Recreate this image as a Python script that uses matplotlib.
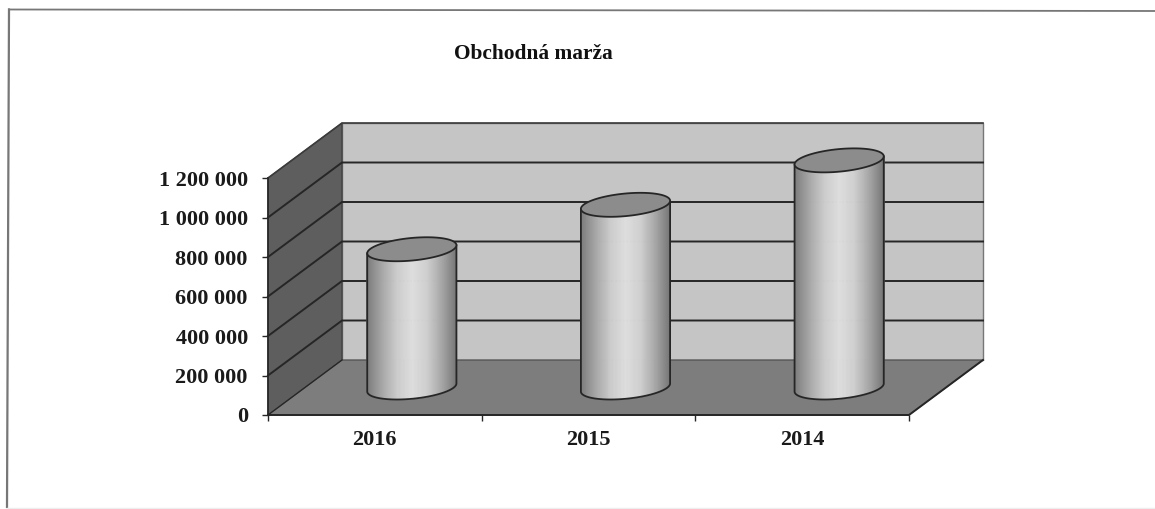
import numpy as np
import matplotlib
matplotlib.use("Agg")
import matplotlib.pyplot as plt
from matplotlib.collections import PolyCollection
from matplotlib.lines import Line2D
from matplotlib.colors import LinearSegmentedColormap

title = "Obchodná marža"
categories = ["2016", "2015", "2014"]
values = [700000, 925000, 1150000]
y_ticks = [0, 200000, 400000, 600000, 800000, 1000000, 1200000]
y_labels = ["0", "200 000", "400 000", "600 000", "800 000", "1 000 000", "1 200 000"]

W, H = 1155, 509
L, R, T, B = 268, 909, 178, 415
plt.rcParams["font.family"] = ["Liberation Serif", "DejaVu Serif"]
plt.rcParams["font.weight"] = "bold"

fig = plt.figure(figsize=(W / 100, H / 100), dpi=100, facecolor="white")
ax = fig.add_axes([L / W, 1 - B / H, (R - L) / W, (B - T) / H])
ax.set_xlim(0, 3)
ax.set_ylim(0, 1200000)
ax.patch.set_visible(False)
for s in ax.spines.values():
    s.set_visible(False)

ux = 3 / (R - L)                 # data units per pixel
uy = 1200000 / (B - T)
DX, DY = 74 * ux, 55 * uy        # depth of the 3-D box
ymax = y_ticks[-1]
ink = "#262626"

# walls
ax.fill([DX, 3 + DX, 3 + DX, DX], [DY, DY, ymax + DY, ymax + DY],
        color="#c5c5c5", ec="#777777", lw=1.0, clip_on=False, zorder=1)
ax.fill([0, DX, DX, 0], [0, DY, ymax + DY, ymax], color="#5e5e5e",
        ec="#3a3a3a", lw=0.8, clip_on=False, zorder=2)
ax.fill([0, 3, 3 + DX, DX], [0, 0, DY, DY], color="#7d7d7d",
        ec="#4a4a4a", lw=0.8, clip_on=False, zorder=2)

# gridlines
for v in y_ticks[1:-1]:
    ax.plot([0, DX, 3 + DX], [v, v + DY, v + DY], color=ink, lw=1.4,
            clip_on=False, zorder=3, solid_joinstyle="miter")
ax.plot([0, DX, 3 + DX], [ymax, ymax + DY, ymax + DY], color="#3c3c3c", lw=1.2,
        clip_on=False, zorder=3)
ax.plot([0, 0], [0, ymax], color=ink, lw=1.2, clip_on=False, zorder=4)
ax.plot([0, 3, 3 + DX], [0, 0, DY], color=ink, lw=1.4, clip_on=False, zorder=4)
ax.plot([0, DX], [0, DY], color=ink, lw=0.9, clip_on=False, zorder=4)

# cylinders
cmap = LinearSegmentedColormap.from_list(
    "cyl", ["#7c7c7c", "#a8a8a8", "#cdcdcd", "#dedede", "#d0d0d0", "#a8a8a8", "#787878"])
AX, BX, BY = 42 * ux, 15 * ux, 12 * uy
base = DY / 2


def ring(cx, cy, th):
    return cx + AX * np.cos(th) + BX * np.sin(th), cy + BY * np.sin(th)


for i, v in enumerate(values):
    cx = i + 0.5 + DX / 2
    top = base + v
    # visible side runs between the leftmost and rightmost silhouette points
    th0 = np.arctan2(BX, AX) + np.pi
    th = np.linspace(th0, th0 + np.pi, 121)
    xb, yb = ring(cx, base, th)
    xt, yt = ring(cx, top, th)
    quads = [[(xb[k], yb[k]), (xb[k + 1], yb[k + 1]), (xt[k + 1], yt[k + 1]), (xt[k], yt[k])]
             for k in range(len(th) - 1)]
    shade = cmap((xb[:-1] - xb.min()) / (xb.max() - xb.min()))
    ax.add_collection(PolyCollection(quads, facecolors=shade, edgecolors=shade,
                                     linewidths=0.6, clip_on=False, zorder=5))
    # outline of the side
    ax.plot(np.r_[xt[0], xb, xt[-1]], np.r_[yt[0], yb, yt[-1]], color=ink, lw=1.3,
            clip_on=False, zorder=6)
    # top cap
    full = np.linspace(0, 2 * np.pi, 121)
    xc, yc = ring(cx, top, full)
    ax.fill(xc, yc, facecolor="#8c8c8c", edgecolor=ink, lw=1.3, clip_on=False, zorder=7)

# axes ticks and labels
ax.set_yticks(y_ticks, y_labels)
ax.set_xticks([0, 1, 2, 3])
ax.set_xticks([0.5, 1.5, 2.5], categories, minor=True)
ax.set_xticklabels([])
ax.tick_params(axis="y", length=4, width=1, color=ink, pad=10.5, labelsize=16, labelcolor="#1a1a1a")
ax.tick_params(axis="x", which="major", length=4, width=1, color=ink)
ax.tick_params(axis="x", which="minor", length=0, pad=11, labelsize=16, labelcolor="#1a1a1a")

fig.text(533 / W, 1 - 54 / H, title, ha="center", va="center", fontsize=15.4, color="#111111")

# outer frame of the scanned page
fig.add_artist(Line2D([9 / W, 1], [1 - 9.5 / H, 1 - 11 / H], color="#777777", lw=1.3))
fig.add_artist(Line2D([9 / W, 7 / W], [1 - 9.5 / H, 1 - 507 / H], color="#777777", lw=1.6))
fig.add_artist(Line2D([7 / W, 1], [1 - 507.5 / H, 1 - 507.5 / H], color="#eeeeee", lw=1.0))

fig.savefig("out.png", dpi=100, facecolor="white")
